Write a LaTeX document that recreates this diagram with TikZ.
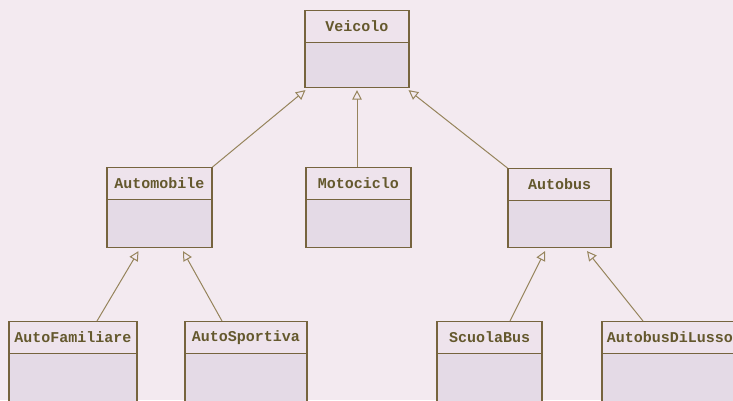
\documentclass[tikz,border=0pt]{standalone}
\usepackage{fontspec}
\newfontfamily\classfont{Liberation Mono}
\usetikzlibrary{arrows.meta,calc}

\definecolor{pagebg}{RGB}{243,234,240}
\definecolor{headfill}{RGB}{238,227,236}
\definecolor{bodyfill}{RGB}{228,218,230}
\definecolor{edgeclr}{RGB}{118,100,62}
\definecolor{textclr}{RGB}{100,88,45}
\definecolor{linkclr}{RGB}{150,132,92}

\tikzset{
  classbody/.style={draw=edgeclr, fill=bodyfill, line width=1.1pt, inner sep=0pt},
  classhead/.style={draw=edgeclr, fill=headfill, line width=1.1pt, inner sep=0pt,
    minimum height=32pt, text=textclr,
    font=\classfont\bfseries\fontsize{15}{17}\selectfont},
  inherits/.style={draw=linkclr, line width=1pt,
    -{Triangle[open, length=9.5pt, width=9.5pt, fill=pagebg]}}
}

% \umlclass{name}{label}{centre x}{top y}{width}{height}
\newcommand\umlclass[6]{%
  \node[classbody, minimum width=#5, minimum height=#6, anchor=north] (#1) at (#3,#4) {};
  \node[classhead, minimum width=#5, anchor=north] (#1-head) at (#1.north) {#2};
}

\begin{document}
\begin{tikzpicture}[x=1pt, y=-1pt]
  \fill[pagebg] (0,0) rectangle (733,400);
  \useasboundingbox (0,0) rectangle (733,400);

  % base class
  \umlclass{veicolo}{Veicolo}{357}{10}{104}{77}

  % second level
  \umlclass{automobile}{Automobile}{159.5}{167}{105}{80}
  \umlclass{motociclo}{Motociclo}{358.5}{167}{105}{80}
  \umlclass{autobus}{Autobus}{559.5}{168}{103}{79}

  % third level
  \umlclass{autofamiliare}{AutoFamiliare}{73}{321}{128}{100}
  \umlclass{autosportiva}{AutoSportiva}{246}{321}{122}{100}
  \umlclass{scuolabus}{ScuolaBus}{489.5}{321}{105}{100}
  \umlclass{autobuslusso}{AutobusDiLusso}{670}{321}{136}{100}

  % generalisation links
  \draw[inherits] (automobile.north east) -- ($(veicolo.south west)+(1,2)$);
  \draw[inherits] (motociclo.north -| veicolo.south) -- ($(veicolo.south)+(0,2)$);
  \draw[inherits] (autobus.north west) -- ($(veicolo.south east)+(-1,2)$);

  \draw[inherits] ($(autofamiliare.north)+(24,0)$) -- ($(automobile.south)+(-21,3)$);
  \draw[inherits] ($(autosportiva.north)+(-24,0)$) -- ($(automobile.south)+(23.5,3)$);
  \draw[inherits] ($(scuolabus.north)+(20.5,0)$) -- ($(autobus.south)+(-14.5,3)$);
  \draw[inherits] ($(autobuslusso.north)+(-27,0)$) -- ($(autobus.south)+(27.5,3)$);
\end{tikzpicture}
\end{document}
